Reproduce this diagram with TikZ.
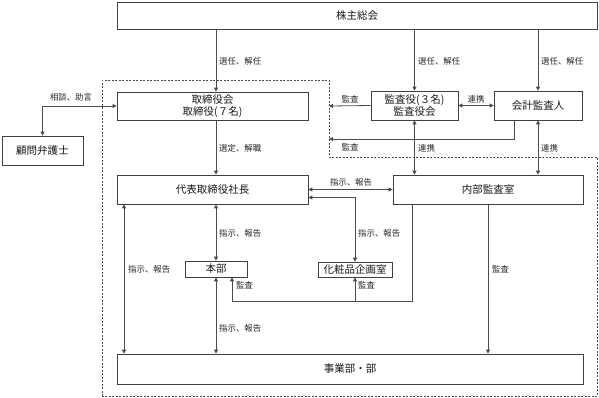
\documentclass[tikz,border=0pt]{standalone}
\usepackage{fontspec}
\setmainfont{Noto Sans CJK JP}
\usetikzlibrary{arrows.meta,calc}
\tikzset{
  box/.style={draw=black!75, line width=0.7pt, fill=white, inner sep=0pt, font=\fontsize{10.5}{12.5}\selectfont, text=black!90, align=center},
  conn/.style={draw=black!70, line width=0.8pt},
  tipr/.style={conn, -{Triangle[length=4pt,width=4pt]}},
  tipb/.style={conn, {Triangle[length=4pt,width=4pt]}-{Triangle[length=4pt,width=4pt]}},
  lbl/.style={font=\fontsize{8.4}{9}\selectfont, text=black!85, inner sep=0pt},
  lblw/.style={lbl, anchor=west},
  dots/.style={draw=black!70, line width=0.7pt, dash pattern=on 2pt off 1.5pt}
}
\begin{document}
\begin{tikzpicture}[x=1pt,y=-1pt]
\useasboundingbox (0,0) rectangle (599,397);
% dotted region
\draw[dots] (102,396) -- (102,80) -- (329,80) -- (329,157) -- (597,157) -- (597,396) -- cycle;
% boxes
\node[box, minimum width=480pt, minimum height=27pt] (top) at (357,15.5) {株主総会};
\node[box, minimum width=191pt, minimum height=28pt] (tori) at (212.5,106) {取締役会\\取締役(７名)};
\node[box, minimum width=81pt, minimum height=29pt] (komon) at (42.5,150.5) {顧問弁護士};
\node[box, minimum width=87pt, minimum height=29pt] (kansa) at (414.5,105.5) {監査役(３名)\\監査役会};
\node[box, minimum width=88pt, minimum height=29pt] (kaikei) at (538,105.5) {会計監査人};
\node[box, minimum width=191pt, minimum height=29pt] (daihyo) at (212.5,189.5) {代表取締役社長};
\node[box, minimum width=190pt, minimum height=29pt] (naibu) at (488,189.5) {内部監査室};
\node[box, minimum width=62pt, minimum height=16pt] (honbu) at (216,269) {本部};
\node[box, minimum width=74pt, minimum height=15pt] (kesho) at (355,269.5) {化粧品企画室};
\node[box, minimum width=466pt, minimum height=30pt] (jigyo) at (350,369) {事業部・部};
% helper coordinates
\coordinate (c1) at (216,0);
\coordinate (cl) at (124,0);
\coordinate (d1) at (329,106);
\coordinate (k1) at (514,139);
\coordinate (d2) at (329,139);
\coordinate (yb) at (0,197.5);
\coordinate (m1) at (412,301);
\coordinate (m2) at (232,301);
% connectors
\draw[tipr] (top.south -| c1) -- (tori.north -| c1);
\node[lblw] (l1) at (219,61) {選任、解任};
\draw[tipr] (top.south -| kansa.north) -- (kansa.north);
\node[lblw] (l2) at (418,61) {選任、解任};
\draw[tipr] (top.south -| kaikei.north) -- (kaikei.north);
\node[lblw] (l3) at (541,61) {選任、解任};
\draw[tipr] (tori.south -| c1) -- (daihyo.north -| c1);
\node[lblw] (l4) at (219,148) {選定、解職};
\draw[tipb] (tori.west) -| (komon.north);
\node[lbl] (l5) at (71,97) {相談、助言};
\draw[tipr] (kansa.west) -- (d1);
\node[lbl] (l6) at (350,99) {監査};
\draw[tipr] (kaikei.south -| k1) -- (k1) -- (d2);
\node[lbl] (l7) at (350,147) {監査};
\draw[tipb] (kansa.east) -- (kaikei.west);
\node[lbl] (l8) at (476,99) {連携};
\draw[tipb] (kansa.south) -- (naibu.north -| kansa.south);
\node[lblw] (l9) at (418,148) {連携};
\draw[tipb] (kaikei.south) -- (naibu.north -| kaikei.south);
\node[lblw] (l10) at (541,148) {連携};
\draw[tipb] (daihyo.east) -- (naibu.west);
\node[lbl] (l11) at (351,182) {指示、報告};
\draw[tipb] (daihyo.east |- yb) -| (kesho.north);
\node[lblw] (l12) at (358,233) {指示、報告};
\draw[tipb] (daihyo.south -| honbu.north) -- (honbu.north);
\node[lblw] (l13) at (219,233) {指示、報告};
\draw[tipb] (honbu.south) -- (jigyo.north -| honbu.south);
\node[lblw] (l14) at (219,328) {指示、報告};
\draw[tipb] (daihyo.south -| cl) -- (jigyo.north -| cl);
\node[lblw] (l15) at (128,269) {指示、報告};
\draw[tipr] (naibu.south) -- (jigyo.north -| naibu.south);
\node[lblw] (l16) at (492,269) {監査};
\draw[tipr] (naibu.south -| m1) -- (m1) -- (m2) -- (honbu.south -| m2);
\draw[tipr] (kesho.south |- m1) -- (kesho.south);
\node[lblw] (l17) at (236,285) {監査};
\node[lblw] (l18) at (358,285) {監査};
\end{tikzpicture}
\end{document}
